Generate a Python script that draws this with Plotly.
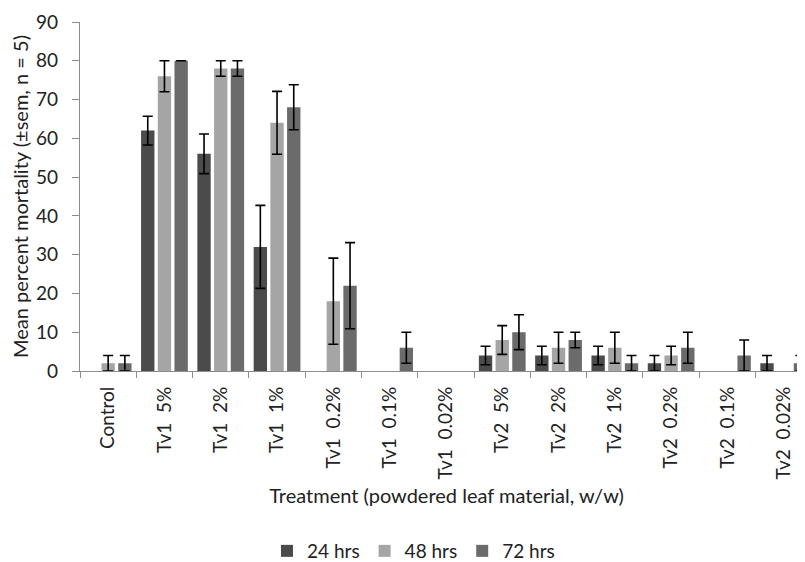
import plotly.graph_objects as go

categories = ["Control", "Tv1\u00a0 5%", "Tv1\u00a0 2%", "Tv1\u00a0 1%", "Tv1\u00a0 0.2%", "Tv1\u00a0 0.1%",
              "Tv1\u00a0 0.02%", "Tv2\u00a0 5%", "Tv2\u00a0 2%", "Tv2\u00a0 1%", "Tv2\u00a0 0.2%",
              "Tv2\u00a0 0.1%", "Tv2\u00a0 0.02%"]

hrs24 = [0, 62, 56, 32, 0, 0, 0, 4, 4, 4, 2, 0, 2]
hrs48 = [2, 76, 78, 64, 18, 0, 0, 8, 6, 6, 4, 0, 0]
hrs72 = [2, 80, 78, 68, 22, 6, 0, 10, 8, 2, 6, 4, 2]

# None = no error bar drawn (zero-mortality groups)
err24 = [None, 3.7, 5.1, 10.7, None, None, None, 2.4, 2.4, 2.4, 2, None, 2]
err48 = [2, 4, 2, 8.1, 11.1, None, None, 3.7, 4, 4, 2.4, None, None]
err72 = [2, 0, 2, 5.8, 11.1, 4, None, 4.5, 2, 2, 4, 4, 2]

series_names = ["24 hrs", "48 hrs", "72 hrs"]
colors = ["#4b4b4b", "#a5a5a5", "#6b6b6b"]

FONT = "Lato"
TXT = "#222222"

fig = go.Figure()
for name, vals, errs, col in zip(series_names, [hrs24, hrs48, hrs72], [err24, err48, err72], colors):
    # a bar without an error value has zero height; leave it out so no cap is drawn on the axis
    yplot = [v if (e is not None or v != 0) else None for v, e in zip(vals, errs)]
    eplot = [e if e is not None else 0 for e in errs]
    fig.add_trace(go.Bar(
        x=categories, y=yplot, name=name,
        marker=dict(color=col, line=dict(width=0)),
        error_y=dict(type="data", array=eplot, visible=True, color="black",
                     thickness=1.6, width=5),
    ))

fig.update_layout(
    width=805, height=562,
    paper_bgcolor="white", plot_bgcolor="white",
    margin=dict(l=72, r=0, t=14, b=199),
    barmode="group", bargap=0.11, bargroupgap=0.2,
    font=dict(family=FONT, color=TXT),
    showlegend=True,
    legend=dict(orientation="h", x=0.455, xanchor="center", y=-0.516, yanchor="middle",
                font=dict(size=19, family=FONT, color=TXT), traceorder="normal",
                itemwidth=30),
)

fig.update_xaxes(
    type="category", range=[-0.5, 12.52], automargin=False,
    showline=True, linecolor="#8c8c8c", linewidth=1.2,
    ticks="outside", tickson="boundaries", ticklen=6, tickcolor="#8c8c8c",
    tickangle=-90, tickfont=dict(size=19, family=FONT, color=TXT),
    ticklabelstandoff=7,
    title=dict(text="Treatment (powdered leaf material, w/w)", font=dict(size=20, family=FONT, color=TXT),
               standoff=10),
    showgrid=False,
)
fig.update_yaxes(
    range=[0, 90], dtick=10, tick0=0, automargin=False,
    showline=True, linecolor="#8c8c8c", linewidth=1.2,
    ticks="outside", ticklen=7, tickcolor="#8c8c8c",
    tickfont=dict(size=19, family=FONT, color=TXT),
    ticklabelstandoff=10,
    title=dict(text="Mean percent mortality (±sem, n = 5)", font=dict(size=20, family=FONT, color=TXT),
               standoff=8),
    showgrid=False, zeroline=False,
)

fig.write_html("out.html")
